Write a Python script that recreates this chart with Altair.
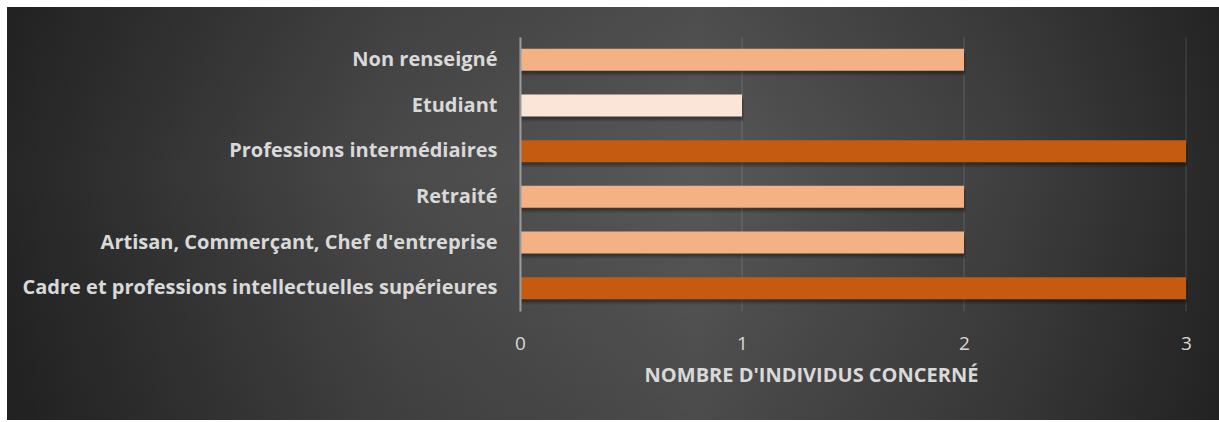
import altair as alt
import pandas as pd

categories = [
    "Non renseigné",
    "Etudiant",
    "Professions intermédiaires",
    "Retraité",
    "Artisan, Commerçant, Chef d'entreprise",
    "Cadre et professions intellectuelles supérieures",
]
counts = [2, 1, 3, 2, 2, 3]
tick_values = [0, 1, 2, 3]
axis_title = "NOMBRE D'INDIVIDUS CONCERNÉ"
level_values = [1, 2, 3]
level_colors = ["#FBE5D6", "#F4B183", "#C55A11"]

df = pd.DataFrame({"cat": categories, "n": counts})
grid_df = pd.DataFrame({"t": tick_values})
one = pd.DataFrame({"a": [0]})

W, H = 666, 274
PAD_L, PAD_T = 520, 37
TOTAL_W, TOTAL_H = 1219, 422
PAD_R = TOTAL_W - PAD_L - W
PAD_B = TOTAL_H - PAD_T - H

FONT = "Open Sans"
TXT = "#d9d9d9"

xscale = alt.Scale(domain=[0, 3], nice=False, zero=True)
yscale = alt.Scale(domain=categories, paddingInner=0.52, paddingOuter=0.26)

x_axis = alt.Axis(
    values=tick_values, format="d", grid=False, domain=False, ticks=False,
    labelFont=FONT, labelFontSize=19, labelColor=TXT, labelPadding=23, labelFlush=False,
    title=axis_title, titleFont=FONT, titleFontSize=20, titleFontWeight="bold",
    titleColor=TXT, titlePadding=12, titleX=291, titleAlign="center", zindex=1,
)
y_axis = alt.Axis(
    title=None, ticks=False, grid=False, domain=True, domainColor="#9a9a9a",
    domainWidth=2, labelFont=FONT, labelFontSize=20, labelFontWeight="bold",
    labelColor=TXT, labelPadding=23, labelLimit=600, zindex=1,
)

bg_h = {
    "gradient": "linear", "x1": 0, "y1": 0, "x2": 1, "y2": 0,
    "stops": [
        {"offset": 0.0, "color": "#262626"},
        {"offset": 0.32, "color": "#4a4a4a"},
        {"offset": 0.57, "color": "#585858"},
        {"offset": 0.82, "color": "#404040"},
        {"offset": 1.0, "color": "#282828"},
    ],
}
bg_v = {
    "gradient": "linear", "x1": 0, "y1": 0, "x2": 0, "y2": 1,
    "stops": [
        {"offset": 0.0, "color": "rgba(0,0,0,0.12)"},
        {"offset": 0.4, "color": "rgba(0,0,0,0)"},
        {"offset": 1.0, "color": "rgba(0,0,0,0.15)"},
    ],
}

bg_enc = dict(
    x=alt.value(7 - PAD_L), x2=alt.value(TOTAL_W - PAD_L),
    y=alt.value(7 - PAD_T), y2=alt.value(420 - PAD_T),
)
bg1 = alt.Chart(one).mark_rect(fill=bg_h).encode(**bg_enc)
bg2 = alt.Chart(one).mark_rect(fill=bg_v).encode(**bg_enc)

grid = alt.Chart(grid_df).mark_rule(color="white", opacity=0.08, strokeWidth=2).encode(
    x=alt.X("t:Q", scale=xscale, axis=x_axis)
)

def bar_enc():
    return dict(
        x=alt.X("n:Q", scale=xscale, axis=x_axis),
        y=alt.Y("cat:N", scale=yscale, sort=categories, axis=y_axis),
    )

shadow1 = alt.Chart(df).mark_bar(color="black", opacity=0.22, yOffset=3, xOffset=1).encode(**bar_enc())
shadow2 = alt.Chart(df).mark_bar(color="black", opacity=0.12, yOffset=5, xOffset=2).encode(**bar_enc())

bars = alt.Chart(df).mark_bar().encode(
    **bar_enc(),
    color=alt.Color("n:O", scale=alt.Scale(domain=level_values, range=level_colors), legend=None),
)

chart = alt.layer(bg1, bg2, grid, shadow2, shadow1, bars).properties(
    width=W, height=H,
    autosize=alt.AutoSizeParams(type="none"),
    padding={"left": PAD_L, "top": PAD_T, "right": PAD_R, "bottom": PAD_B},
    background="white",
).configure_view(stroke=None)

chart.save("out.html", embed_options={"renderer": "svg", "actions": False})
